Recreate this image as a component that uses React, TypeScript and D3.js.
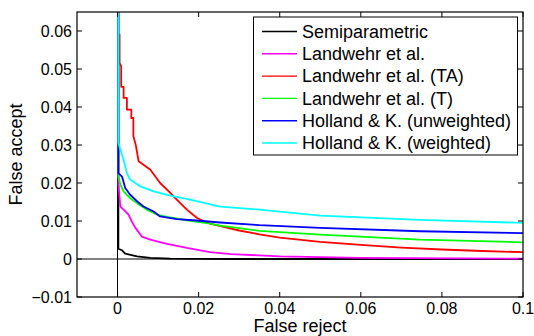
import React, { useEffect, useRef } from 'react';
import * as d3 from 'd3';

// Series (false reject, false accept)
const semiFR = [0.0002, 0.0002, 0.0011, 0.0019, 0.0048, 0.0081, 0.013, 0.03, 0.1];
const semiFA = [0.07, 0.0027, 0.0023, 0.0014, 0.0007, 0.0003, 0.0001, 0, 0];

const landFR = [0.0002, 0.0002, 0.0007, 0.0015, 0.0027, 0.0035, 0.0044, 0.006, 0.0081, 0.0122, 0.0171, 0.0228, 0.028, 0.04, 0.06, 0.1];
const landFA = [0.07, 0.0196, 0.0138, 0.013, 0.0117, 0.0099, 0.0082, 0.0059, 0.0051, 0.004, 0.0029, 0.0018, 0.0013, 0.0007, 0.0003, 0.0001];

const landTAFR = [0.0005, 0.0005, 0.0009, 0.0009, 0.0015, 0.0015, 0.0023, 0.0023, 0.0034, 0.0034, 0.0039, 0.0039, 0.0045, 0.0052, 0.0081, 0.0105, 0.013, 0.0146, 0.0171, 0.0196, 0.022, 0.0228, 0.03, 0.035, 0.04, 0.05, 0.06, 0.07, 0.08, 0.09, 0.1];
const landTAFA = [0.0593, 0.0516, 0.0507, 0.0453, 0.0453, 0.0424, 0.0424, 0.0393, 0.0393, 0.0371, 0.0371, 0.0323, 0.03, 0.0257, 0.0235, 0.02, 0.0174, 0.0156, 0.013, 0.0108, 0.0096, 0.0093, 0.0075, 0.0065, 0.0056, 0.0045, 0.0037, 0.003, 0.0025, 0.0021, 0.0018];

const landTFR = [0.0002, 0.0002, 0.0007, 0.0015, 0.0031, 0.0048, 0.0072, 0.0097, 0.0122, 0.0171, 0.0228, 0.0253, 0.035, 0.05, 0.0746, 0.1];
const landTFA = [0.07, 0.0217, 0.0196, 0.0178, 0.016, 0.0147, 0.013, 0.0117, 0.0111, 0.0102, 0.0093, 0.0088, 0.0074, 0.0064, 0.0051, 0.0044];

const hkuFR = [0.0002, 0.0002, 0.0011, 0.0019, 0.0031, 0.0048, 0.0064, 0.0089, 0.0105, 0.0146, 0.0187, 0.0253, 0.035, 0.05, 0.0746, 0.1];
const hkuFA = [0.07, 0.0226, 0.0217, 0.0187, 0.0169, 0.0152, 0.0138, 0.0125, 0.0112, 0.0105, 0.0102, 0.0096, 0.0089, 0.0082, 0.0073, 0.0068];

const hkwFR = [0.0002, 0.0002, 0.0015, 0.0023, 0.0031, 0.0056, 0.0089, 0.013, 0.0179, 0.0253, 0.035, 0.05, 0.0746, 0.1];
const hkwFA = [0.07, 0.0305, 0.0261, 0.0226, 0.0209, 0.0191, 0.0178, 0.0167, 0.0156, 0.0138, 0.013, 0.0114, 0.0103, 0.0095];

const seriesNames = [
  'Semiparametric',
  'Landwehr et al.',
  'Landwehr et al. (TA)',
  'Landwehr et al. (T)',
  'Holland & K. (unweighted)',
  'Holland & K. (weighted)',
];
const seriesColors = ['#000000', '#ff00ff', '#ff0000', '#00ff00', '#0000ff', '#00ffff'];
const seriesFR = [semiFR, landFR, landTAFR, landTFR, hkuFR, hkwFR];
const seriesFA = [semiFA, landFA, landTAFA, landTFA, hkuFA, hkwFA];

const xTicks = [0, 0.02, 0.04, 0.06, 0.08, 0.1];
const xTickLabels = ['0', '0.02', '0.04', '0.06', '0.08', '0.1'];
const yTicks = [-0.01, 0, 0.01, 0.02, 0.03, 0.04, 0.05, 0.06];
const yTickLabels = ['\u22120.01', '0', '0.01', '0.02', '0.03', '0.04', '0.05', '0.06'];

const App: React.FC = () => {
  const svgRef = useRef<SVGSVGElement | null>(null);

  useEffect(() => {
    if (!svgRef.current) return;
    const width = 534;
    const height = 336;
    const left = 77, right = 523, top = 12, bottom = 297;
    const font = 'Arial, "Liberation Sans", Helvetica, sans-serif';

    const svg = d3.select(svgRef.current);
    svg.selectAll('*').remove();

    const x = d3.scaleLinear().domain([-0.01, 0.1]).range([left, right]);
    const y = d3.scaleLinear().domain([-0.01, 0.065]).range([bottom, top]);

    svg.append('rect').attr('width', width).attr('height', height).attr('fill', '#fff');

    svg.append('clipPath').attr('id', 'plot-clip')
      .append('rect')
      .attr('x', left).attr('y', top)
      .attr('width', right - left).attr('height', bottom - top);

    // zero reference lines
    svg.append('line')
      .attr('x1', x(0)).attr('x2', x(0)).attr('y1', top).attr('y2', bottom)
      .attr('stroke', '#000').attr('stroke-width', 1);
    svg.append('line')
      .attr('x1', left).attr('x2', right).attr('y1', y(0)).attr('y2', y(0))
      .attr('stroke', '#000').attr('stroke-width', 1);

    // curves
    const plot = svg.append('g').attr('clip-path', 'url(#plot-clip)');
    const line = d3.line<[number, number]>()
      .x(d => x(d[0]))
      .y(d => y(d[1]));

    seriesFR.forEach((fr, i) => {
      const pts = fr.map((v, j) => [v, seriesFA[i][j]] as [number, number]);
      plot.append('path')
        .attr('d', line(pts))
        .attr('fill', 'none')
        .attr('stroke', seriesColors[i])
        .attr('stroke-width', 1.8)
        .attr('stroke-linejoin', 'round');
    });

    // frame
    svg.append('rect')
      .attr('x', left).attr('y', top)
      .attr('width', right - left).attr('height', bottom - top)
      .attr('fill', 'none').attr('stroke', '#000').attr('stroke-width', 1.2);

    const tickLen = 5;
    xTicks.forEach((t, i) => {
      svg.append('line')
        .attr('x1', x(t)).attr('x2', x(t)).attr('y1', bottom).attr('y2', bottom - tickLen)
        .attr('stroke', '#000');
      svg.append('line')
        .attr('x1', x(t)).attr('x2', x(t)).attr('y1', top).attr('y2', top + tickLen)
        .attr('stroke', '#000');
      svg.append('text')
        .attr('x', x(t)).attr('y', bottom + 17)
        .attr('text-anchor', 'middle')
        .attr('font-family', font).attr('font-size', 16)
        .text(xTickLabels[i]);
    });

    yTicks.forEach((t, i) => {
      svg.append('line')
        .attr('x1', left).attr('x2', left + tickLen).attr('y1', y(t)).attr('y2', y(t))
        .attr('stroke', '#000');
      svg.append('line')
        .attr('x1', right).attr('x2', right - tickLen).attr('y1', y(t)).attr('y2', y(t))
        .attr('stroke', '#000');
      svg.append('text')
        .attr('x', left - 5).attr('y', y(t) + 5.5)
        .attr('text-anchor', 'end')
        .attr('font-family', font).attr('font-size', 16)
        .text(yTickLabels[i]);
    });

    // axis labels
    svg.append('text')
      .attr('x', (left + right) / 2).attr('y', 331.5)
      .attr('text-anchor', 'middle')
      .attr('font-family', font).attr('font-size', 18)
      .text('False reject');
    svg.append('text')
      .attr('transform', `translate(22,${(top + bottom) / 2}) rotate(-90)`)
      .attr('text-anchor', 'middle')
      .attr('font-family', font).attr('font-size', 18)
      .text('False accept');

    // legend
    const lg = svg.append('g');
    lg.append('rect')
      .attr('x', 253.5).attr('y', 17)
      .attr('width', 264).attr('height', 138)
      .attr('fill', '#fff').attr('stroke', '#000').attr('stroke-width', 1);
    seriesNames.forEach((name, i) => {
      const ry = 31.5 + i * 22.3;
      lg.append('line')
        .attr('x1', 262).attr('x2', 297).attr('y1', ry).attr('y2', ry)
        .attr('stroke', seriesColors[i]).attr('stroke-width', 1.4);
      lg.append('text')
        .attr('x', 302).attr('y', ry + 6.3)
        .attr('font-family', font).attr('font-size', 18)
        .text(name);
    });
  }, []);

  return (
    <div style={{ position: 'absolute', left: 0, top: 0 }}>
      <svg ref={svgRef} width={534} height={336} style={{ display: 'block' }} />
    </div>
  );
};

export default App;
